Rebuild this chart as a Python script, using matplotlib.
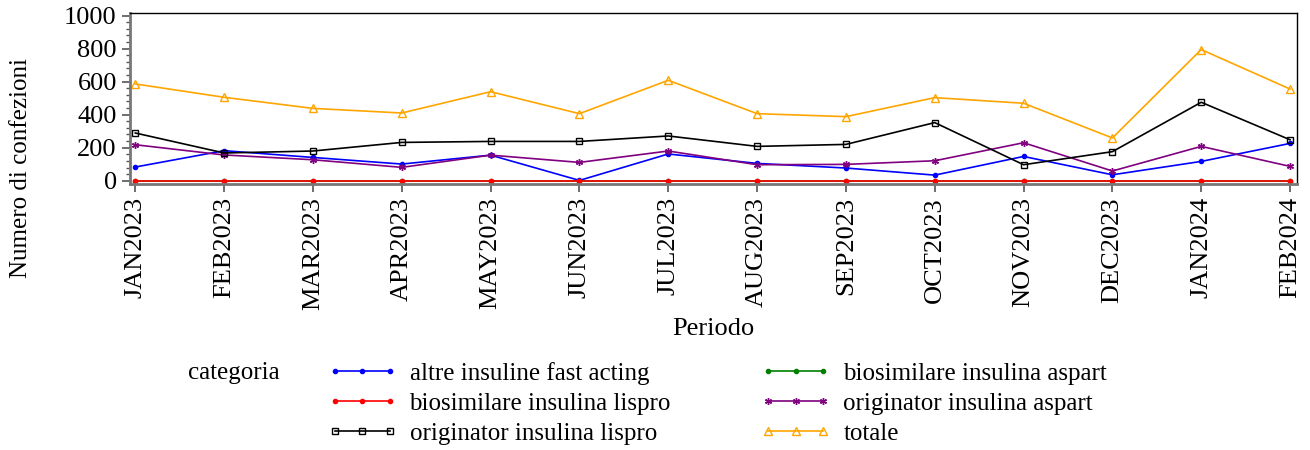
import numpy as np
import matplotlib
matplotlib.use("Agg")
import matplotlib.pyplot as plt
from matplotlib.ticker import AutoMinorLocator

plt.rcParams['font.family'] = ['Liberation Serif', 'DejaVu Serif']

periodi = ['JAN2023', 'FEB2023', 'MAR2023', 'APR2023', 'MAY2023', 'JUN2023',
           'JUL2023', 'AUG2023', 'SEP2023', 'OCT2023', 'NOV2023', 'DEC2023',
           'JAN2024', 'FEB2024']

altre_fast = [83, 182, 141, 101, 155, 2, 162, 105, 77, 34, 147, 36, 117, 226]
bio_lispro = [0, 0, 0, 0, 0, 0, 0, 0, 0, 0, 0, 0, 0, 0]
orig_lispro = [289, 168, 180, 232, 238, 238, 271, 208, 220, 352, 97, 176, 475, 248]
bio_aspart = [0, 0, 0, 0, 0, 0, 0, 0, 0, 0, 0, 0, 0, 0]
orig_aspart = [218, 156, 127, 81, 155, 111, 180, 97, 99, 121, 230, 59, 208, 87]
totale = [586, 505, 438, 410, 539, 406, 608, 406, 388, 503, 469, 259, 794, 555]

fig = plt.figure(figsize=(13.1, 4.5), dpi=100)
ax = fig.add_axes([0.0992, 0.591, 0.891, 0.380])

x = np.arange(len(periodi))
lw = 1.2

l_altre, = ax.plot(x, altre_fast, color='#0000FF', lw=lw, marker='o', ms=3,
                   label='altre insuline fast acting')
l_bioa, = ax.plot(x, bio_aspart, color='#008000', lw=lw, marker='o', ms=3,
                  label='biosimilare insulina aspart')
l_biol, = ax.plot(x, bio_lispro, color='#FF0000', lw=lw, marker='o', ms=3,
                  label='biosimilare insulina lispro')
l_origa, = ax.plot(x, orig_aspart, color='#800080', lw=lw, marker=(6, 2, 0), ms=5,
                   label='originator insulina aspart')
l_origl, = ax.plot(x, orig_lispro, color='black', lw=lw, marker='s', ms=5,
                   mfc='none', mew=1, label='originator insulina lispro')
l_tot, = ax.plot(x, totale, color='#FFA500', lw=lw, marker='^', ms=6,
                 mfc='none', mew=1, label='totale')

ax.set_xlim(-0.06, 13.08)
ax.set_ylim(-20, 1015)
ax.set_yticks([0, 200, 400, 600, 800, 1000])
ax.yaxis.set_minor_locator(AutoMinorLocator(5))
ax.set_xticks(x)
ax.set_xticklabels(periodi, rotation=90, fontsize=19)
ax.tick_params(axis='y', labelsize=19, length=6, width=1.2, color='#555555')
ax.tick_params(axis='y', which='minor', length=3, width=1, color='#555555')
ax.tick_params(axis='x', length=6, width=1.2, color='#555555')

for s in ['left', 'bottom']:
    ax.spines[s].set_color('#777777')
    ax.spines[s].set_linewidth(2)
for s in ['top', 'right']:
    ax.spines[s].set_linewidth(1)

ax.set_xlabel('Periodo', fontsize=19, labelpad=6)
fig.text(0.016, 1 - 168 / 450, 'Numero di confezioni', rotation=90,
         fontsize=18, ha='center', va='center')

fig.text(188 / 1310, 1 - 373 / 450, 'categoria', fontsize=18, va='center')
handles = [l_altre, l_biol, l_origl, l_bioa, l_origa, l_tot]
fig.legend(handles=handles, labels=[h.get_label() for h in handles],
           ncol=2, loc='upper left', bbox_to_anchor=(327 / 1310, 1 - 362 / 450),
           frameon=False, fontsize=18, numpoints=3, handlelength=2.8,
           handletextpad=0.5, columnspacing=3.6, labelspacing=0.3,
           borderaxespad=0, borderpad=0)

fig.savefig('out.png', dpi=100)
